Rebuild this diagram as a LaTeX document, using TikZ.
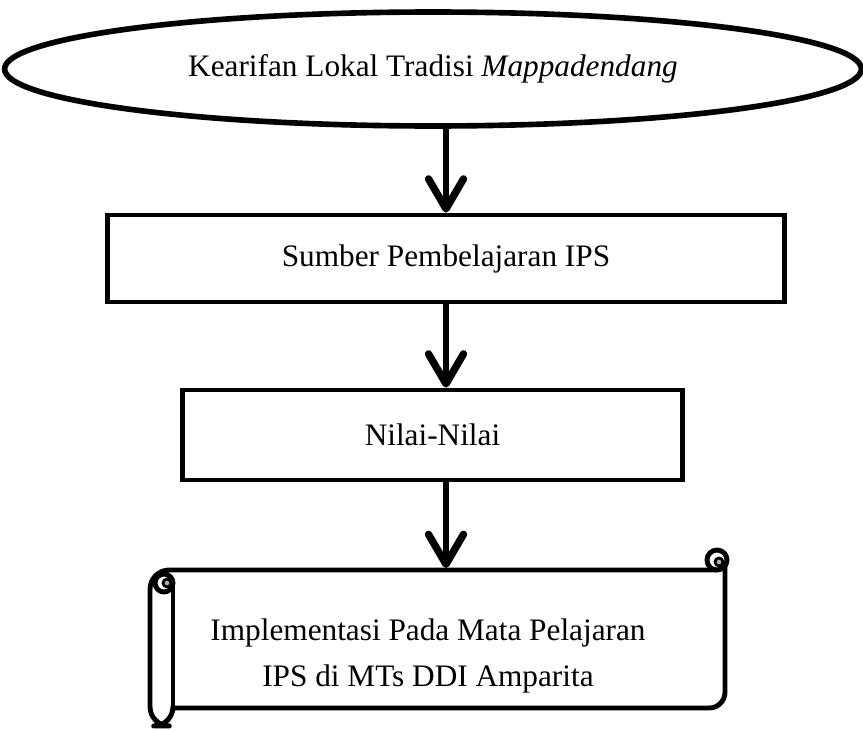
\documentclass[tikz,border=0pt]{standalone}
\usepackage{fontspec}
\setmainfont{Liberation Serif}
\usetikzlibrary{arrows.meta,shapes.geometric,positioning}
\tikzset{
    start/.style={
    ellipse,draw=black,line width=3.2pt,minimum width=17.14cm,minimum height=2.28cm,inner sep=0pt
    },
    process/.style={
    rectangle,draw=black,line width=2.8pt,inner sep=0pt
    },
    scroll/.style={
    draw=black,line width=2.8pt,line join=round
    },
    flow/.style={
    line width=3.4pt,-{Straight Barb[length=6mm,width=7mm,round,line width=4.2pt]}
    },
    txt/.style={
    font=\fontsize{17.8}{26}\selectfont
    },
}
\begin{document}
\begin{tikzpicture}[x=0.02cm,y=-0.02cm]
   \useasboundingbox (0,0) rectangle (863,730);
   \node[start,txt] (ell) at (433,69) {Kearifan Lokal Tradisi \textit{Mappadendang}};
   \node[process,txt,minimum width=13.56cm,minimum height=1.74cm] (src) at (446,258.5) {Sumber Pembelajaran IPS};
   \node[process,txt,minimum width=10.02cm,minimum height=1.8cm] (val) at (432.5,435) {Nilai-Nilai};

   % scroll
   \draw[scroll,rounded corners=9] (725,560) -- (725,708) -- (173,708);
   \draw[scroll,rounded corners=11] (173,708) -- (173,726) -- (150,726) -- (150,570) -- (717,570);
   \draw[scroll,fill=white] (717,560) circle[radius=10];
   \draw[scroll] (173,583) -- (173,708);
   \draw[scroll,fill=white] (164,583) circle[radius=9];
   \filldraw[scroll,fill=gray!60,line width=1.6pt] (719,562) circle[radius=4];
   \filldraw[scroll,fill=gray!60,line width=1.6pt] (167,583) circle[radius=4];
   \coordinate (impltop) at (446,568);
   \node[txt,align=center] (impl) at (428,656) {Implementasi Pada Mata Pelajaran\\IPS di MTs DDI Amparita};

  \draw[flow] (src.north |- ell.south) -- (src.north);
  \draw[flow] (src.south) -- (src.south |- val.north);
  \draw[flow] (src.south |- val.south) -- (impltop);
\end{tikzpicture}
\end{document}
